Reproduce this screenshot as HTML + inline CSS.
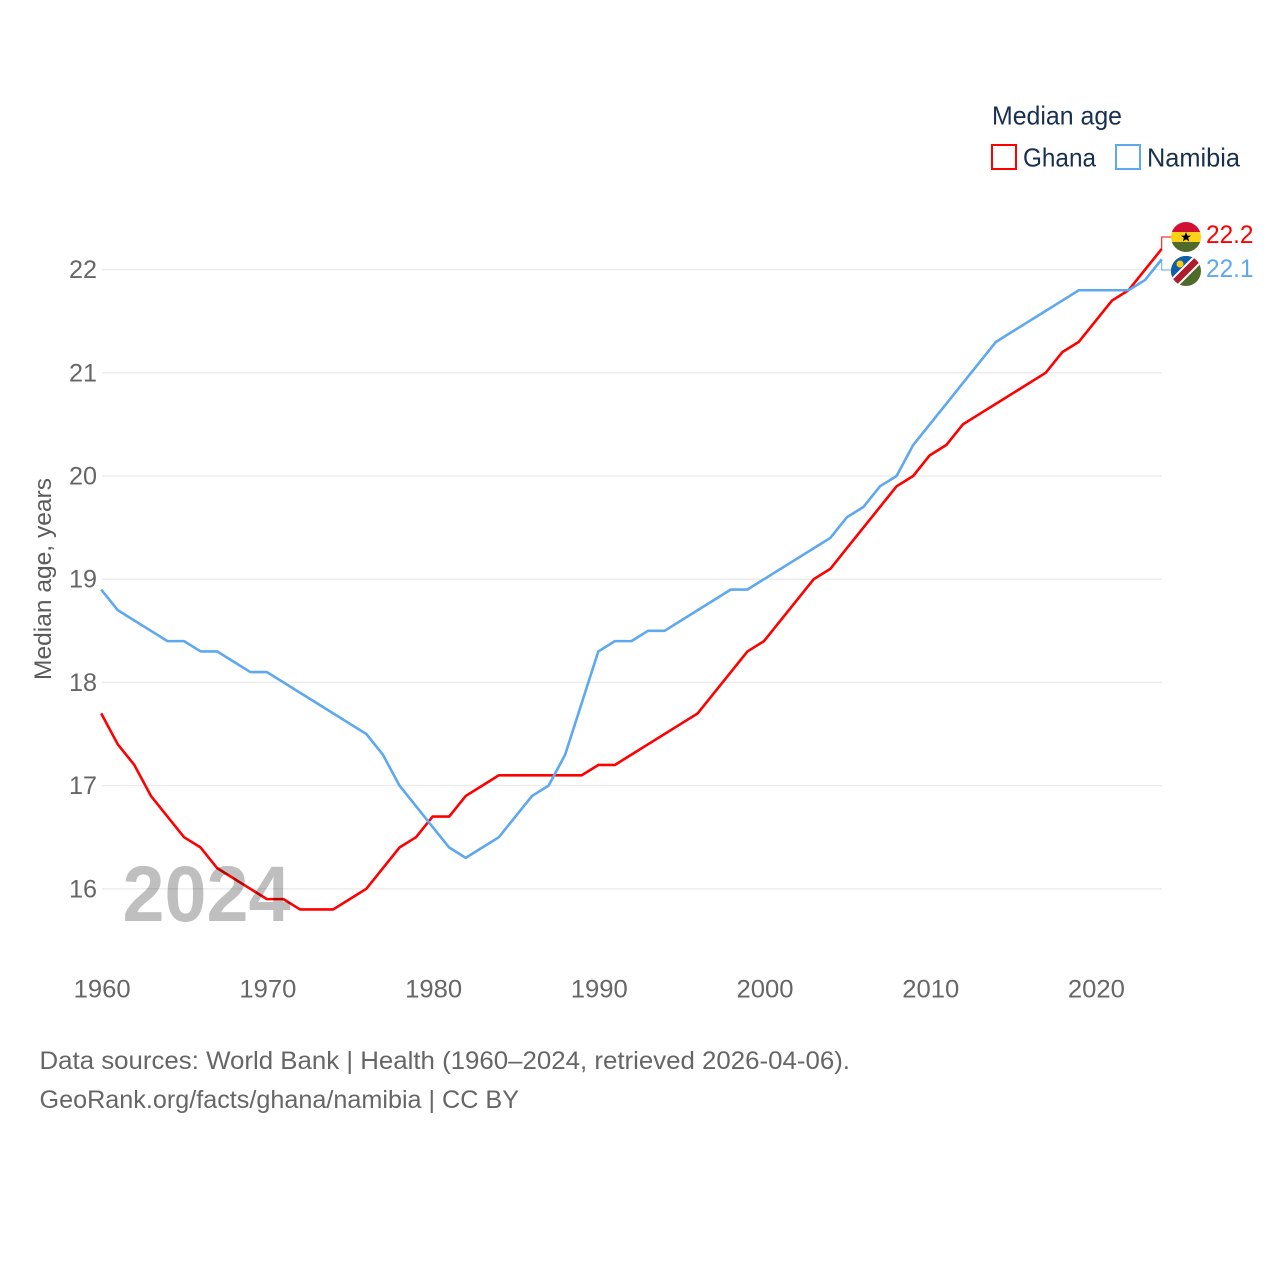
<!DOCTYPE html>
<html lang="en">
<head>
<meta charset="utf-8">
<title>Median age: Ghana and Namibia</title>
<style>
html,body{margin:0;padding:0;background:#fff;}
svg{display:block;font-family:"Liberation Sans",Arial,sans-serif;}
</style>
</head>
<body>
<svg id="chart" xmlns="http://www.w3.org/2000/svg" width="1280" height="1280" viewBox="0 0 1280 1280">
  <rect width="1280" height="1280" fill="#fff"/>
  <g id="grid"></g>
  <g id="yticks"></g>
  <g id="xticks"></g>
  <text transform="translate(51,680) rotate(-90)" font-size="24.5" fill="#5b5b5b" textLength="202" lengthAdjust="spacingAndGlyphs">Median age, years</text>
  <g id="series"></g>
  <text x="122.500" y="921" font-size="79" font-weight="bold" fill="#000" fill-opacity="0.25" textLength="168" lengthAdjust="spacingAndGlyphs">2024</text>

  <g>
    <text x="992" y="124.500" font-size="26" fill="#18304f" textLength="130" lengthAdjust="spacingAndGlyphs">Median age</text>
    <g>
      <rect x="992" y="145" width="24" height="24" fill="#fff" stroke="#ff0000" stroke-width="2"/>
      <text x="1023" y="166.500" font-size="26" fill="#18304f" textLength="73" lengthAdjust="spacingAndGlyphs">Ghana</text>
    </g>
    <g>
      <rect x="1116" y="145" width="24" height="24" fill="#fff" stroke="#5ea8f0" stroke-width="2"/>
      <text x="1147" y="166.500" font-size="26" fill="#18304f" textLength="93" lengthAdjust="spacingAndGlyphs">Namibia</text>
    </g>
  </g>

  <defs>
    <clipPath id="clip-gh"><circle cx="1186" cy="237" r="15"/></clipPath>
    <clipPath id="clip-na"><circle cx="1186" cy="271" r="15"/></clipPath>
  </defs>
  <g clip-path="url(#clip-gh)">
    <rect x="1171" y="222" width="30" height="10" fill="#d21034"/>
    <rect x="1171" y="232" width="30" height="10" fill="#fcd116"/>
    <rect x="1171" y="242" width="30" height="10" fill="#4f6b2c"/>
    <polygon points="1186,232 1187.400,235.600 1191,235.600 1188.100,237.900 1189.200,241.500 1186,239.300 1182.800,241.500 1183.900,237.900 1181,235.600 1184.600,235.600" fill="#000"/>
  </g>
  <g clip-path="url(#clip-na)">
    <rect x="1171" y="256" width="30" height="30" fill="#4f6b2c"/>
    <polygon points="1171,256 1201,256 1171,286" fill="#0d5eaf"/>
    <line x1="1171" y1="286" x2="1201" y2="256" stroke="#fff" stroke-width="10.500"/>
    <line x1="1171" y1="286" x2="1201" y2="256" stroke="#b01c2e" stroke-width="6.500"/>
    <circle cx="1180" cy="264" r="3.500" fill="#ffce00"/>
  </g>
  <g id="endlabels"></g>

  <text x="39.500" y="1069" font-size="25" fill="#666" textLength="810.500" lengthAdjust="spacingAndGlyphs">Data sources: World Bank | Health (1960–2024, retrieved 2026-04-06).</text>
  <text x="39.500" y="1108" font-size="25" fill="#666" textLength="479.500" lengthAdjust="spacingAndGlyphs">GeoRank.org/facts/ghana/namibia | CC BY</text>
</svg>
<script>
const years = [1960,1961,1962,1963,1964,1965,1966,1967,1968,1969,1970,1971,1972,1973,1974,1975,1976,1977,1978,1979,1980,1981,1982,1983,1984,1985,1986,1987,1988,1989,1990,1991,1992,1993,1994,1995,1996,1997,1998,1999,2000,2001,2002,2003,2004,2005,2006,2007,2008,2009,2010,2011,2012,2013,2014,2015,2016,2017,2018,2019,2020,2021,2022,2023,2024];
const ghana = [17.7,17.4,17.2,16.9,16.7,16.5,16.4,16.2,16.1,16.0,15.9,15.9,15.8,15.8,15.8,15.9,16.0,16.2,16.4,16.5,16.7,16.7,16.9,17.0,17.1,17.1,17.1,17.1,17.1,17.1,17.2,17.2,17.3,17.4,17.5,17.6,17.7,17.9,18.1,18.3,18.4,18.6,18.8,19.0,19.1,19.3,19.5,19.7,19.9,20.0,20.2,20.3,20.5,20.6,20.7,20.8,20.9,21.0,21.2,21.3,21.5,21.7,21.8,22.0,22.2];
const namibia = [18.9,18.7,18.6,18.5,18.4,18.4,18.3,18.3,18.2,18.1,18.1,18.0,17.9,17.8,17.7,17.6,17.5,17.3,17.0,16.8,16.6,16.4,16.3,16.4,16.5,16.7,16.9,17.0,17.3,17.8,18.3,18.4,18.4,18.5,18.5,18.6,18.7,18.8,18.9,18.9,19.0,19.1,19.2,19.3,19.4,19.6,19.7,19.9,20.0,20.3,20.5,20.7,20.9,21.1,21.3,21.4,21.5,21.6,21.7,21.8,21.8,21.8,21.8,21.9,22.1];
const yTickValues = [16,17,18,19,20,21,22];
const xTickValues = [1960,1970,1980,1990,2000,2010,2020];

const NS = 'http://www.w3.org/2000/svg';
const xScale = function (year) { return 101.2 + (year - 1960) * (1161.7 - 101.2) / 64; };
const yScale = function (v) { return 888.8 - (v - 16) * 103.2; };

function make(tag, attrs, parent) {
  const el = document.createElementNS(NS, tag);
  for (const k in attrs) el.setAttribute(k, attrs[k]);
  parent.appendChild(el);
  return el;
}

const grid = document.getElementById('grid');
const yticks = document.getElementById('yticks');
const xticks = document.getElementById('xticks');
const series = document.getElementById('series');
const endlabels = document.getElementById('endlabels');

yTickValues.forEach(function (v) {
  const line = make('line', {x1: 102, x2: 1162, y1: yScale(v), y2: yScale(v), stroke: '#ebebeb', 'stroke-width': 1.3}, grid);
  
  
  const label = make('text', {x: 97, y: yScale(v) + 8.5, 'text-anchor': 'end', 'font-size': 25, fill: '#666', textLength: 28, lengthAdjust: 'spacingAndGlyphs'}, yticks);
  label.textContent = String(v);
  
  
});

xTickValues.forEach(function (year) {
  const label = make('text', {x: xScale(year) + 1, y: 997.5, 'text-anchor': 'middle', 'font-size': 25, fill: '#666', textLength: 57, lengthAdjust: 'spacingAndGlyphs'}, xticks);
  label.textContent = String(year);
  
  
});

function pathFor(values) {
  return values.map(function (v, i) {
    return (i ? 'L' : 'M') + xScale(years[i]).toFixed(2) + ' ' + yScale(v).toFixed(2);
  }).join(' ');
}

const ghanaLine = make('path', {d: pathFor(ghana), fill: 'none', stroke: '#ff0000', 'stroke-width': 2.6, 'stroke-linejoin': 'round'}, series);



const namibiaLine = make('path', {d: pathFor(namibia), fill: 'none', stroke: '#5ea8f0', 'stroke-width': 2.6, 'stroke-linejoin': 'round'}, series);



const lastX = xScale(years[years.length - 1]);
const ghanaLast = ghana[ghana.length - 1];
const namibiaLast = namibia[namibia.length - 1];

const ghanaConnector = make('path', {d: 'M' + lastX + ' ' + yScale(ghanaLast) + ' V237 H1171', fill: 'none', stroke: '#ff0000', 'stroke-width': 1}, endlabels);



const namibiaConnector = make('path', {d: 'M' + lastX + ' ' + yScale(namibiaLast) + ' V270 H1171', fill: 'none', stroke: '#5ea8f0', 'stroke-width': 1}, endlabels);



const ghanaValue = make('text', {x: 1206, y: 243, 'font-size': 25, fill: '#ff0000', textLength: 47.5, lengthAdjust: 'spacingAndGlyphs'}, endlabels);
ghanaValue.textContent = ghanaLast.toFixed(1);



const namibiaValue = make('text', {x: 1206, y: 277, 'font-size': 25, fill: '#5ea8f0', textLength: 47.5, lengthAdjust: 'spacingAndGlyphs'}, endlabels);
namibiaValue.textContent = namibiaLast.toFixed(1);


</script>
</body>
</html>
